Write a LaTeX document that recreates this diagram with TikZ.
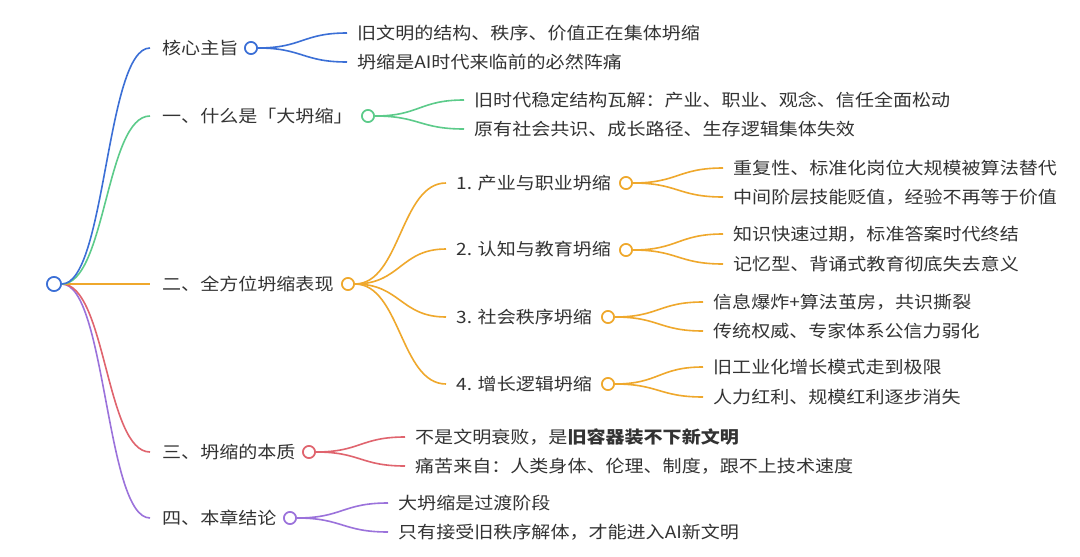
\documentclass[tikz,border=0pt]{standalone}
\usepackage{fontspec}
\setmainfont{Noto Sans CJK SC}[FakeStretch=1.12]
\usetikzlibrary{calc}
\definecolor{cblue}{HTML}{3B6FD6}
\definecolor{cgreen}{HTML}{5CCB8A}
\definecolor{corange}{HTML}{EFA82C}
\definecolor{cred}{HTML}{E0646E}
\definecolor{cpurple}{HTML}{9B72DB}
\definecolor{txt}{HTML}{333333}
\begin{document}
\begin{tikzpicture}[x=1pt,y=-1pt,
  lbl/.style={anchor=west,inner sep=0pt,text=txt,font=\fontsize{17}{20}\selectfont},
  dot/.style={circle,draw,fill=white,line width=1.6pt,minimum size=12pt,inner sep=0pt},
  br/.style={line width=1.6pt,to path={let \p1=(\tikztostart),\p2=(\tikztotarget) in .. controls ({(\x1+\x2)/2},\y1) and ({(\x1+\x2)/2},\y2) .. (\tikztotarget)}}]
\useasboundingbox[fill=white] (0,0) rectangle (1080,557);

% level 1 labels
\node[lbl] (k0) at (162,48) {核心主旨};
\node[lbl] (k1) at (162,116) {一、什么是「大坍缩」};
\node[lbl] (k2) at (162,284) {二、全方位坍缩表现};
\node[lbl] (k3) at (162,452) {三、坍缩的本质};
\node[lbl] (k4) at (162,518) {四、本章结论};

% level 2 labels
\node[lbl] (a1) at (357,33) {旧文明的结构、秩序、价值正在集体坍缩};
\node[lbl] (a2) at (357,62) {坍缩是AI时代来临前的必然阵痛};
\node[lbl] (b1) at (474,100) {旧时代稳定结构瓦解：产业、职业、观念、信任全面松动};
\node[lbl] (b2) at (474,129) {原有社会共识、成长路径、生存逻辑集体失效};
\node[lbl] (c1) at (456,183) {1. 产业与职业坍缩};
\node[lbl] (c2) at (456,249) {2. 认知与教育坍缩};
\node[lbl] (c3) at (456,317) {3. 社会秩序坍缩};
\node[lbl] (c4) at (456,384) {4. 增长逻辑坍缩};
\node[lbl] (e1) at (415,437) {不是文明衰败，是\textbf{旧容器装不下新文明}};
\node[lbl] (e2) at (415,466) {痛苦来自：人类身体、伦理、制度，跟不上技术速度};
\node[lbl] (f1) at (398,503) {大坍缩是过渡阶段};
\node[lbl] (f2) at (398,532) {只有接受旧秩序解体，才能进入AI新文明};

% level 3 labels
\node[lbl] (c11) at (733,168) {重复性、标准化岗位大规模被算法替代};
\node[lbl] (c12) at (733,197) {中间阶层技能贬值，经验不再等于价值};
\node[lbl] (c21) at (733,234) {知识快速过期，标准答案时代终结};
\node[lbl] (c22) at (733,264) {记忆型、背诵式教育彻底失去意义};
\node[lbl] (c31) at (713,302) {信息爆炸+算法茧房，共识撕裂};
\node[lbl] (c32) at (713,331) {传统权威、专家体系公信力弱化};
\node[lbl] (c41) at (713,367) {旧工业化增长模式走到极限};
\node[lbl] (c42) at (713,397) {人力红利、规模红利逐步消失};

% dots (positions)
\coordinate (pr) at (54,284);
\coordinate (p0) at (251,48);
\coordinate (p1) at (368,116);
\coordinate (p2) at (348,284);
\coordinate (p3) at (309,452);
\coordinate (p4) at (290,518);
\coordinate (pc1) at (626,183);
\coordinate (pc2) at (626,250);
\coordinate (pc3) at (608,317);
\coordinate (pc4) at (608,384);
\node[dot,draw=cblue,minimum size=14pt] (root) at (pr) {};
\node[dot,draw=cblue] (d0) at (p0) {};
\node[dot,draw=cgreen] (d1) at (p1) {};
\node[dot,draw=corange] (d2) at (p2) {};
\node[dot,draw=cred] (d3) at (p3) {};
\node[dot,draw=cpurple] (d4) at (p4) {};
\node[dot,draw=corange] (dc1) at (pc1) {};
\node[dot,draw=corange] (dc2) at (pc2) {};
\node[dot,draw=corange] (dc3) at (pc3) {};
\node[dot,draw=corange] (dc4) at (pc4) {};

% connectors (drawn behind dots)
\begin{scope}[on background layer/.try]
\end{scope}
\draw[br,cpurple] (root.east) to ([xshift=-12pt]k4.west);
\draw[br,cred] (root.east) to ([xshift=-12pt]k3.west);
\draw[br,corange] (root.east) to ([xshift=-12pt]k2.west);
\draw[br,cgreen] (root.east) to ([xshift=-12pt]k1.west);
\draw[br,cblue] (root.east) to ([xshift=-12pt]k0.west);

\draw[br,cblue] (d0.east) to ([xshift=-10pt]a1.west);
\draw[br,cblue] (d0.east) to ([xshift=-10pt]a2.west);
\draw[br,cgreen] (d1.east) to ([xshift=-10pt]b1.west);
\draw[br,cgreen] (d1.east) to ([xshift=-10pt]b2.west);
\draw[br,corange] (d2.east) to ([xshift=-10pt]c1.west);
\draw[br,corange] (d2.east) to ([xshift=-10pt]c2.west);
\draw[br,corange] (d2.east) to ([xshift=-10pt]c3.west);
\draw[br,corange] (d2.east) to ([xshift=-10pt]c4.west);
\draw[br,cred] (d3.east) to ([xshift=-10pt]e1.west);
\draw[br,cred] (d3.east) to ([xshift=-10pt]e2.west);
\draw[br,cpurple] (d4.east) to ([xshift=-10pt]f1.west);
\draw[br,cpurple] (d4.east) to ([xshift=-10pt]f2.west);
\draw[br,corange] (dc1.east) to ([xshift=-10pt]c11.west);
\draw[br,corange] (dc1.east) to ([xshift=-10pt]c12.west);
\draw[br,corange] (dc2.east) to ([xshift=-10pt]c21.west);
\draw[br,corange] (dc2.east) to ([xshift=-10pt]c22.west);
\draw[br,corange] (dc3.east) to ([xshift=-10pt]c31.west);
\draw[br,corange] (dc3.east) to ([xshift=-10pt]c32.west);
\draw[br,corange] (dc4.east) to ([xshift=-10pt]c41.west);
\draw[br,corange] (dc4.east) to ([xshift=-10pt]c42.west);

% redraw dots on top
\foreach \n/\c in {root/cblue,d0/cblue,d1/cgreen,d2/corange,d3/cred,d4/cpurple,dc1/corange,dc2/corange,dc3/corange,dc4/corange}
  \draw[\c,line width=1.6pt,fill=white] (\n.center) circle[radius=6pt];
\draw[cblue,line width=1.6pt,fill=white] (root.center) circle[radius=7pt];
\end{tikzpicture}
\end{document}
